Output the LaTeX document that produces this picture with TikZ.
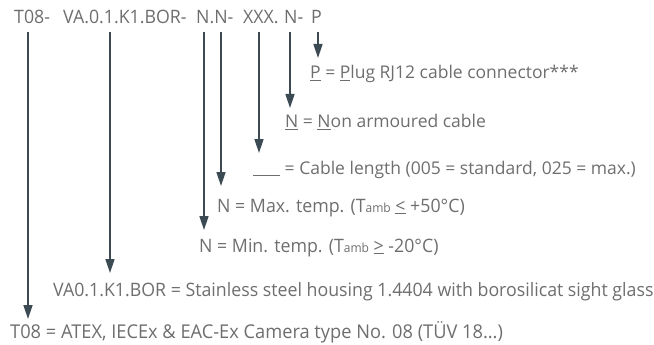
\documentclass[tikz,border=0pt]{standalone}
\usepackage{fontspec}
\setmainfont{Open Sans}
\newfontfamily\narrowfont[FakeStretch=0.96]{Open Sans}
\usetikzlibrary{arrows.meta}
\definecolor{txt}{HTML}{6E6E6E}
\definecolor{arrc}{HTML}{3C4A54}
\newcommand{\amb}{{\fontsize{12.5}{14}\selectfont amb}}
\begin{document}
\begin{tikzpicture}[x=1pt,y=-1pt,
  lbl/.style={anchor=base west, inner sep=0pt, text=txt, font=\fontsize{17.5}{20}\selectfont},
  nlbl/.style={lbl, font=\fontsize{18.5}{21}\narrowfont},
  arrowline/.style={draw=arrc, line width=1.6pt, -{Triangle[length=14pt,width=9pt]}}]
\useasboundingbox (0,0) rectangle (654,345);
% top code
\node[nlbl] (cT) at (14,24) {T08-};
\node[nlbl] (cVA) at (63,24) {VA.0.1.K1.BOR-};
\node[nlbl] (cNN) at (196,24) {N.N-};
\node[nlbl] (cX) at (243,24) {XXX.};
\node[nlbl] (cN) at (284,24) {N-};
\node[nlbl] (cP) at (311,24) {P};
% descriptions
\node[lbl] (dP) at (310,79) {\underline{P} = \underline{P}lug RJ12 cable connector***};
\node[lbl] (dN) at (285,128) {\underline{N} = \underline{N}on armoured cable};
\node[lbl] (dX) at (253,174) {\underline{\hspace{27pt}} = Cable length (005 = standard, 025 = max.)};
\node[nlbl] (dMax) at (217,212) {N = Max. temp. (T\amb{} \underline{<} +50°C)};
\node[nlbl] (dMin) at (199,252) {N = Min. temp. (T\amb{} \underline{>} -20°C)};
\node[nlbl] (dVA) at (53,296) {VA0.1.K1.BOR = Stainless steel housing 1.4404 with borosilicat sight glass};
\node[nlbl, font=\fontsize{19}{22}\narrowfont] (dT) at (10,338) {T08 = ATEX, IECEx \& EAC-Ex Camera type No. 08 (TÜV 18...)};
% arrow start / tip points
\coordinate (sT) at (28,32);   \coordinate (eT) at (28,319);
\coordinate (sVA) at (110,32); \coordinate (eVA) at (110,273);
\coordinate (sN1) at (204,32); \coordinate (eN1) at (204,230);
\coordinate (sN2) at (221,32); \coordinate (eN2) at (221,186);
\coordinate (sX) at (259,32);  \coordinate (eX) at (259,153);
\coordinate (sN) at (290,32);  \coordinate (eN) at (290,108);
\coordinate (sP) at (318,32);  \coordinate (eP) at (318,58);
\draw[arrowline] (sT) -- (eT);
\draw[arrowline] (sVA) -- (eVA);
\draw[arrowline] (sN1) -- (eN1);
\draw[arrowline] (sN2) -- (eN2);
\draw[arrowline] (sX) -- (eX);
\draw[arrowline] (sN) -- (eN);
\draw[arrowline] (sP) -- (eP);
\end{tikzpicture}
\end{document}
